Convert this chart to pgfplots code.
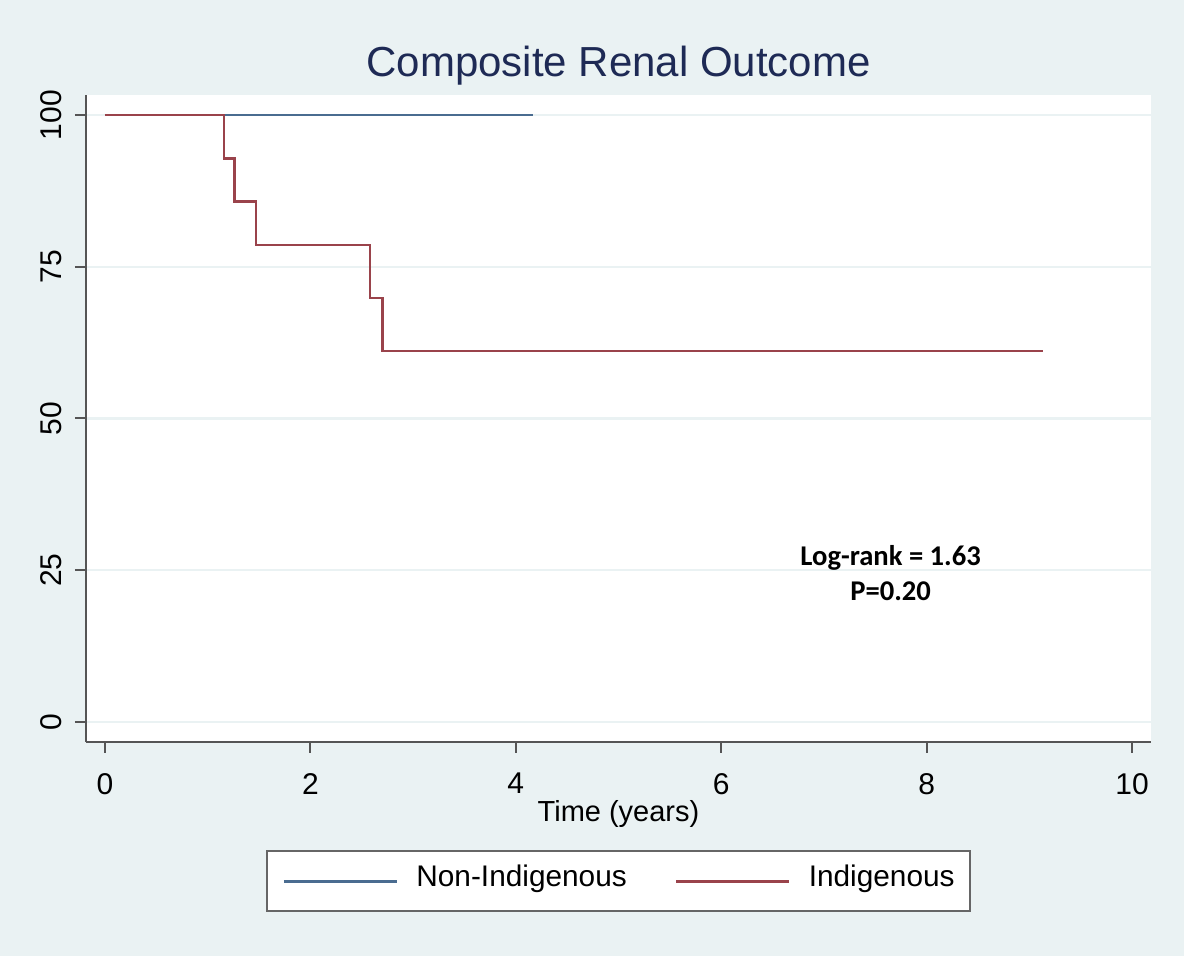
\documentclass[border=0pt]{standalone}
\usepackage{fontspec}
\setmainfont{Liberation Sans}
\newfontfamily\calibri{Carlito}
\usepackage{pgfplots}
\pgfplotsset{compat=1.18}
\definecolor{bgc}{HTML}{EAF2F3}
\definecolor{gridc}{HTML}{EAF2F3}
\definecolor{navyl}{HTML}{4A6C90}
\definecolor{maroonl}{HTML}{9A434B}
\definecolor{titlec}{HTML}{1E2A55}
\definecolor{axc}{HTML}{555555}
\begin{document}
\begin{tikzpicture}
\fill[bgc] (-43pt,-107pt) rectangle (549pt,371pt);
\begin{axis}[
  scale only axis,
  width=532.5pt, height=323.5pt,
  xmin=-0.185, xmax=10.185,
  ymin=-3.3, ymax=103.3,
  axis x line*=bottom, axis y line*=left,
  axis line style={-, color=axc, line width=1pt},
  axis background/.style={fill=white},
  xtick={0,2,4,6,8,10},
  ytick={0,25,50,75,100},
  tick align=outside,
  major tick length=5.5pt,
  every tick/.style={color=axc, line width=1pt},
  ymajorgrids,
  major grid style={color=gridc, line width=1.2pt},
  /pgf/number format/assume math mode=true,
  tick label style={font=\fontsize{15}{18}\selectfont, color=black},
  xticklabel shift=6.5pt,
  yticklabel style={rotate=90, anchor=base},
  yticklabel shift=6.5pt,
  title={Composite Renal Outcome},
  title style={at={(0.5,1)}, anchor=base, yshift=3pt, font=\fontsize{21}{25}\selectfont, color=titlec},
  xlabel={Time (years)},
  every axis x label/.style={at={(axis description cs:0.5,0)}, anchor=base, yshift=-40pt, font=\fontsize{14.5}{17}\selectfont},
  legend columns=2,
  legend style={at={(axis description cs:0.5,-0.215)}, anchor=center,
    draw=black!60, line width=1pt, fill=white,
    inner xsep=7.5pt, inner ysep=10pt,
    font=\fontsize{14.9}{17}\selectfont,
    nodes={inner sep=0pt, text depth=0.22em, text height=0.75em},
    /tikz/every odd column/.append style={column sep=9pt},
    /tikz/every even column/.append style={column sep=24pt}},
  legend image code/.code={\draw[#1, line width=1.5pt] (0pt,0pt) -- (56.5pt,0pt);},
]
\addplot[navyl, line width=1.3pt] coordinates {(0,100) (4.17,100)};
\addlegendentry{Non-Indigenous}
\addplot[maroonl, line width=1.3pt, const plot] coordinates {
  (0,100) (1.16,92.86) (1.26,85.71) (1.47,78.57) (2.58,69.84) (2.70,61.11) (9.13,61.11)};
\addlegendentry{Indigenous}
\node[align=center, font=\calibri\bfseries\fontsize{14.3}{17.5}\selectfont] at (axis cs:7.65,24.6) {Log-rank = 1.63\\P=0.20};
\end{axis}
\end{tikzpicture}
\end{document}
